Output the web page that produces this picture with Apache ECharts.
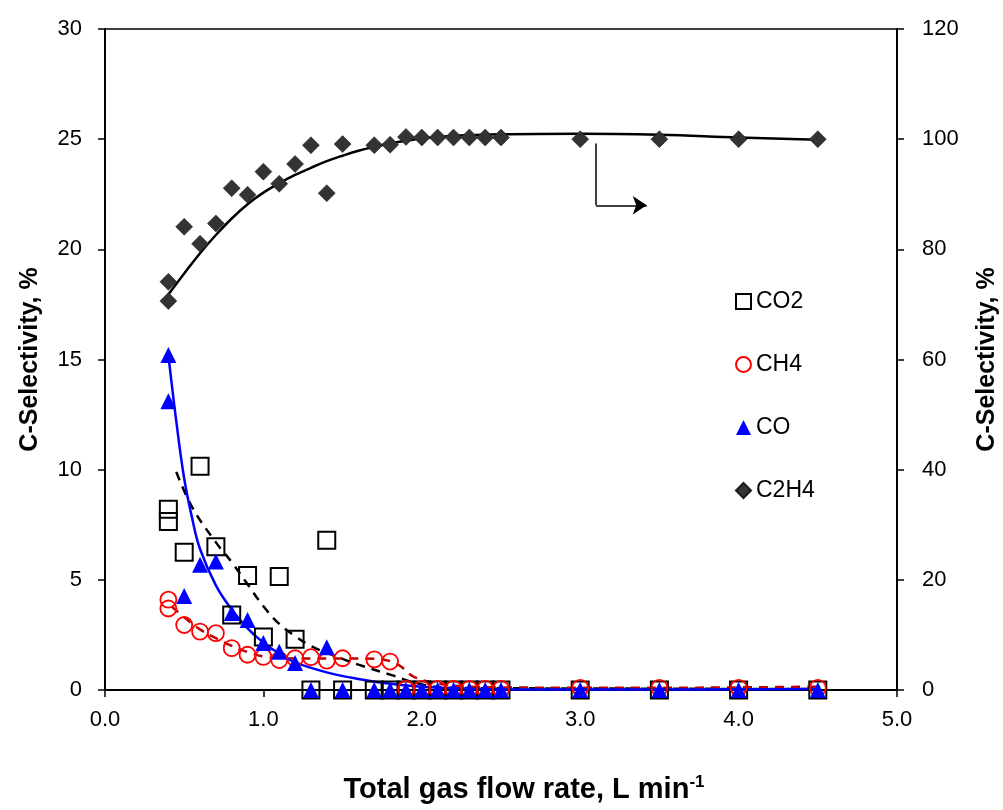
<!DOCTYPE html>
<html>
<head>
<meta charset="utf-8">
<script src="https://cdn.jsdelivr.net/npm/echarts@6/dist/echarts.min.js"></script>
<style>
  html, body { margin: 0; padding: 0; background: #fff; }
  #chart { width: 1003px; height: 810px; }
</style>
</head>
<body>
<div id="chart"></div>
<script>
// measured points (flow rate, L/min)
const flow = [0.4, 0.4, 0.5, 0.6, 0.7, 0.8, 0.9, 1.0, 1.1, 1.2, 1.3, 1.4, 1.5, 1.7, 1.8, 1.9, 2.0, 2.1, 2.2, 2.3, 2.4, 2.5, 3.0, 3.5, 4.0, 4.5]
const co2 = [8.2, 7.65, 6.25, 10.15, 6.5, 3.4, 5.2, 2.4, 5.15, 2.3, 0, 6.8, 0, 0, 0, 0, 0, 0, 0, 0, 0, 0, 0, 0, 0, 0]
const ch4 = [4.1, 3.7, 2.95, 2.65, 2.58, 1.9, 1.6, 1.5, 1.36, 1.44, 1.49, 1.33, 1.44, 1.39, 1.29, 0.05, 0.05, 0.05, 0.05, 0.05, 0.05, 0.05, 0.1, 0.1, 0.1, 0.1]
const co = [15.2, 13.1, 4.27, 5.68, 5.83, 3.5, 3.18, 2.13, 1.74, 1.23, 0, 1.94, 0, 0, 0, 0, 0, 0, 0, 0, 0, 0, 0, 0, 0, 0]
const c2h4 = [74.1, 70.6, 84.1, 81.0, 84.7, 91.1, 89.9, 94.1, 91.9, 95.5, 98.9, 90.2, 99.1, 98.9, 99.0, 100.4, 100.3, 100.3, 100.3, 100.3, 100.3, 100.3, 100, 100, 100, 100]

// trend lines
const co2FitX = [0.45, 0.55, 0.7, 0.8, 0.9, 1.0, 1.1, 1.2, 1.3, 1.45, 1.6, 1.8, 2.0, 2.2, 2.5, 3.0, 3.5, 4.0, 4.5]
const co2FitY = [9.9, 8.3, 6.7, 5.8, 4.8, 3.8, 3.0, 2.45, 2.0, 1.55, 1.15, 0.7, 0.25, 0.1, 0.08, 0.07, 0.06, 0.05, 0.05]
const ch4FitX = [0.42, 0.5, 0.6, 0.7, 0.8, 0.9, 1.0, 1.1, 1.2, 1.4, 1.6, 1.75, 1.85, 1.95, 2.1, 2.3, 2.5, 3.0, 3.5, 4.0, 4.5]
const ch4FitY = [3.8, 3.3, 2.75, 2.35, 2.0, 1.72, 1.52, 1.45, 1.43, 1.43, 1.43, 1.38, 1.15, 0.6, 0.3, 0.15, 0.12, 0.1, 0.1, 0.12, 0.15]
const coFitX = [0.4, 0.45, 0.5, 0.55, 0.6, 0.7, 0.8, 0.9, 1.0, 1.1, 1.2, 1.4, 1.6, 1.8, 2.0, 2.2, 2.5, 3.0, 3.5, 4.0, 4.5]
const coFitY = [15.2, 12.2, 9.6, 7.8, 6.4, 4.75, 3.65, 2.8, 2.15, 1.65, 1.25, 0.8, 0.5, 0.28, 0.15, 0.08, 0.03, 0.02, 0.02, 0.03, 0.05]
const c2h4FitX = [0.4, 0.5, 0.6, 0.7, 0.8, 0.9, 1.0, 1.1, 1.2, 1.3, 1.4, 1.5, 1.6, 1.7, 1.8, 1.9, 2.0, 2.2, 2.5, 3.0, 3.5, 4.0, 4.5]
const c2h4FitY = [71.8, 75.6, 79.3, 82.6, 85.6, 88.2, 90.3, 92.0, 93.5, 94.8, 96.0, 97.0, 97.9, 98.6, 99.2, 99.7, 100.1, 100.6, 100.9, 101.0, 100.8, 100.3, 99.9]

const xTicks = ['0.0', '1.0', '2.0', '3.0', '4.0', '5.0']

const zip = (xs, ys) => xs.map((x, i) => [x, ys[i]])
const FONT = 'Liberation Sans, Arial, sans-serif'

function selectivity() {
  const option = {
    animation: false,
    textStyle: { fontFamily: FONT },
    grid: {
      left: 105, right: 106, top: 29, bottom: 120,
      outerBoundsMode: 'none',
      show: true, borderColor: '#000', borderWidth: 1.5,
    },
    legend: {
      data: ['CO2', 'CH4', 'CO', 'C2H4'],
      orient: 'vertical',
      left: 730,
      top: 285,
      itemGap: 40,
      itemWidth: 15,
      itemHeight: 15,
      textStyle: { fontSize: 23, color: '#000', fontFamily: FONT },
    },
    xAxis: {
      type: 'value',
      min: 0, max: 5, interval: 1,
      name: '{b|Total gas flow rate, L min}{s|-1}',
      nameLocation: 'middle',
      nameGap: 84,
      nameTextStyle: {
        padding: [0, 0, 0, 46],
        rich: {
          b: { fontSize: 29, fontWeight: 'bold', color: '#000', fontFamily: FONT },
          s: { fontSize: 17, fontWeight: 'bold', color: '#000', fontFamily: FONT, verticalAlign: 'bottom', padding: [0, 0, 14, 0] },
        },
      },
      axisLine: { lineStyle: { color: '#000', width: 2 } },
      axisTick: { length: 7, lineStyle: { color: '#000', width: 1.5 } },
      axisLabel: {
        fontSize: 22, color: '#000', margin: 19,
        formatter: (v) => xTicks[Math.round(v)],
      },
      splitLine: { show: false },
    },
    yAxis: [
      {
        type: 'value',
        min: 0, max: 30, interval: 5,
        name: 'C-Selectivity, %',
        nameLocation: 'middle',
        nameGap: 62,
        nameRotate: 90,
        nameTextStyle: { fontSize: 25, fontWeight: 'bold', color: '#000' },
        axisLine: { show: true, lineStyle: { color: '#000', width: 2 } },
        axisTick: { show: true, length: 7, lineStyle: { color: '#000', width: 1.5 } },
        axisLabel: { fontSize: 22, color: '#000', margin: 23 },
        splitLine: { show: false },
      },
      {
        type: 'value',
        min: 0, max: 120, interval: 20,
        position: 'right',
        name: 'C-Selectivity, %',
        nameLocation: 'middle',
        nameGap: 78,
        nameRotate: 90,
        nameTextStyle: { fontSize: 25, fontWeight: 'bold', color: '#000' },
        axisLine: { show: true, lineStyle: { color: '#000', width: 2 } },
        axisTick: { show: true, length: 7, lineStyle: { color: '#000', width: 1.5 } },
        axisLabel: { fontSize: 22, color: '#000', margin: 25 },
        splitLine: { show: false },
      },
    ],
    series: [
      {
        name: 'co2fit', type: 'line', data: zip(co2FitX, co2FitY),
        smooth: 0.4, showSymbol: false, silent: true, z: 2,
        lineStyle: { color: '#000', width: 2.5, type: [9, 7] },
      },
      {
        name: 'ch4fit', type: 'line', data: zip(ch4FitX, ch4FitY),
        smooth: 0.4, showSymbol: false, silent: true, z: 2,
        lineStyle: { color: '#C00000', width: 2.5, type: [9, 7] },
      },
      {
        name: 'cofit', type: 'line', data: zip(coFitX, coFitY),
        smooth: 0.4, showSymbol: false, silent: true, z: 2,
        lineStyle: { color: '#0000FF', width: 2.5 },
      },
      {
        name: 'c2h4fit', type: 'line', yAxisIndex: 1, data: zip(c2h4FitX, c2h4FitY),
        smooth: 0.4, showSymbol: false, silent: true, z: 2,
        lineStyle: { color: '#000', width: 2.5 },
      },
      {
        name: 'CO2', type: 'scatter', data: zip(flow, co2),
        symbol: 'rect', symbolSize: 17, z: 3,
        itemStyle: { color: 'rgba(255,255,255,0)', borderColor: '#000', borderWidth: 2, opacity: 1 },
      },
      {
        name: 'CH4', type: 'scatter', data: zip(flow, ch4),
        symbol: 'circle', symbolSize: 16, z: 4,
        itemStyle: { color: 'rgba(255,255,255,0)', borderColor: '#FF0000', borderWidth: 1.8, opacity: 1 },
      },
      {
        name: 'CO', type: 'scatter', data: zip(flow, co),
        symbol: 'triangle', symbolSize: 16, z: 5,
        itemStyle: { color: '#0000FF', opacity: 1 },
      },
      {
        name: 'C2H4', type: 'scatter', yAxisIndex: 1, data: zip(flow, c2h4),
        symbol: 'diamond', symbolSize: 17, z: 5,
        itemStyle: { color: '#333333', borderColor: '#1a1a1a', borderWidth: 0.5, opacity: 1 },
        markLine: {
          silent: true,
          symbol: ['none', 'none'],
          label: { show: false },
          lineStyle: { color: '#000', width: 1.5, type: 'solid' },
          data: [
            [{ coord: [3.1, 99.2] }, { coord: [3.1, 88] }],
            [{ coord: [3.1, 88] }, { coord: [3.42, 88], symbol: 'arrow', symbolSize: 14 }],
          ],
        },
      },
    ],
  }

  var myChart = echarts.init(document.getElementById('chart'))
  myChart.setOption(option)
}

selectivity()
</script>
</body>
</html>
